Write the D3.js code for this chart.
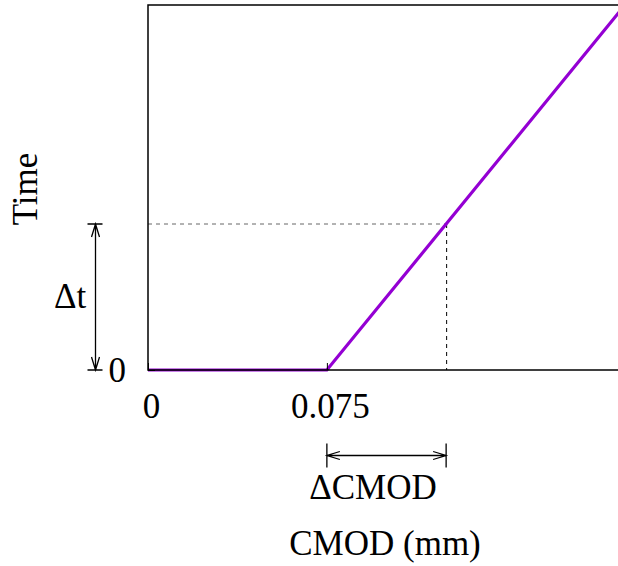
<!DOCTYPE html>
<html>
<head>
<meta charset="utf-8">
<script src="https://cdn.jsdelivr.net/npm/d3@7"></script>
<style>
	body { margin: 0; background: #fff; }
	text { font-family: "Liberation Serif", "Times New Roman", serif; font-size: 35px; fill: #000; }
</style>
</head>
<body>
<svg id="chart" width="618" height="566"></svg>
<script>

// curve: CMOD (mm) vs time (relative)
var cmodValues	= [0, 0.075, 0.2];
var timeValues	= [0, 0, 1];

var xTicks		= [0, 0.075];
var xTickLabels	= ["0", "0.075"];
var yTicks		= [0];
var yTickLabels	= ["0"];

// reading point used for the Δ annotations
var cmodRead	= 0.125;
var timeRead	= 0.4;

var LINE_COLOR	= "#9400d3";

function arrowPath(x1, y1, x2, y2, len, half) {

	var dx = x2 - x1, dy = y2 - y1;
	var d = Math.sqrt(dx * dx + dy * dy);
	var ux = dx / d, uy = dy / d;
	var px = -uy, py = ux;

	function head(x, y, sx, sy) {
		return "M" + (x + sx * len + px * half) + "," + (y + sy * len + py * half) +
			"L" + x + "," + y +
			"L" + (x + sx * len - px * half) + "," + (y + sy * len - py * half);
	}

	return "M" + x1 + "," + y1 + "L" + x2 + "," + y2 +
		head(x1, y1, ux, uy) + head(x2, y2, -ux, -uy);
}

function main() {

	var svg = d3.select("#chart");

	var x = d3.scaleLinear().domain([0, 0.2]).range([148, 625]);
	var y = d3.scaleLinear().domain([0, 1]).range([370, 5]);

	// guide lines to the reading point
	svg.append("line")
		.attr("x1", x(0)).attr("x2", x(cmodRead))
		.attr("y1", y(timeRead)).attr("y2", y(timeRead))
		.attr("stroke", "#666").attr("stroke-width", 1)
		.attr("stroke-dasharray", "4,4");

	svg.append("line")
		.attr("x1", x(cmodRead) + 0.5).attr("x2", x(cmodRead) + 0.5)
		.attr("y1", y(timeRead)).attr("y2", y(0))
		.attr("stroke", "#000").attr("stroke-width", 1)
		.attr("stroke-dasharray", "4,4");

	var line = d3.line()
		.x(function(d) { return x(d[0]); })
		.y(function(d) { return y(d[1]); });

	svg.append("path")
		.datum(d3.zip(cmodValues, timeValues))
		.attr("d", line)
		.attr("fill", "none")
		.attr("stroke", LINE_COLOR)
		.attr("stroke-width", 3.2);

	// frame
	svg.append("rect")
		.attr("x", x(0)).attr("y", y(1))
		.attr("width", x(0.2) - x(0)).attr("height", y(0) - y(1))
		.attr("fill", "none")
		.attr("stroke", "#000").attr("stroke-width", 1.5);

	var xAxis = svg.append("g")
		.attr("transform", "translate(0," + y(0) + ")")
		.call(d3.axisBottom(x).tickValues(xTicks)
			.tickFormat(function(d, i) { return xTickLabels[i]; })
			.tickSize(-7).tickPadding(23));

	var yAxis = svg.append("g")
		.attr("transform", "translate(" + x(0) + ",0)")
		.call(d3.axisLeft(y).tickValues(yTicks)
			.tickFormat(function(d, i) { return yTickLabels[i]; })
			.tickSize(-7).tickPadding(22));

	[xAxis, yAxis].forEach(function(g) {
		g.select(".domain").remove();
		g.selectAll(".tick line").attr("stroke", "#000").attr("stroke-width", 1);
		g.selectAll(".tick text")
			.style("font-family", "Liberation Serif, serif")
			.style("font-size", "35px")
			.attr("fill", "#000");
	});
	xAxis.selectAll(".tick text").attr("dx", 3);

	// Δt dimension arrow
	var ax = 95.5;
	svg.append("path")
		.attr("d", arrowPath(ax, y(timeRead), ax, y(0), 13, 4) +
			"M" + (ax - 8) + "," + y(timeRead) + "H" + (ax + 7) +
			"M" + (ax - 8) + "," + y(0) + "H" + (ax + 7))
		.attr("fill", "none").attr("stroke", "#000").attr("stroke-width", 1.3);

	svg.append("text")
		.attr("x", 54).attr("y", 308)
		.text("\u0394t");

	// ΔCMOD dimension arrow
	var ay = 455.5;
	svg.append("path")
		.attr("d", arrowPath(x(0.075), ay, x(cmodRead), ay, 13, 4) +
			"M" + x(0.075) + "," + (ay - 12) + "V" + (ay + 12) +
			"M" + x(cmodRead) + "," + (ay - 12) + "V" + (ay + 12))
		.attr("fill", "none").attr("stroke", "#000").attr("stroke-width", 1.3);

	svg.append("text")
		.attr("x", 373).attr("y", 499)
		.attr("text-anchor", "middle")
		.text("\u0394CMOD");

	// axis titles
	svg.append("text")
		.attr("x", 385).attr("y", 555)
		.attr("text-anchor", "middle")
		.text("CMOD (mm)");

	svg.append("text")
		.attr("transform", "translate(37,189) rotate(-90)")
		.attr("text-anchor", "middle")
		.text("Time");
}

main();
</script>
</body>
</html>
